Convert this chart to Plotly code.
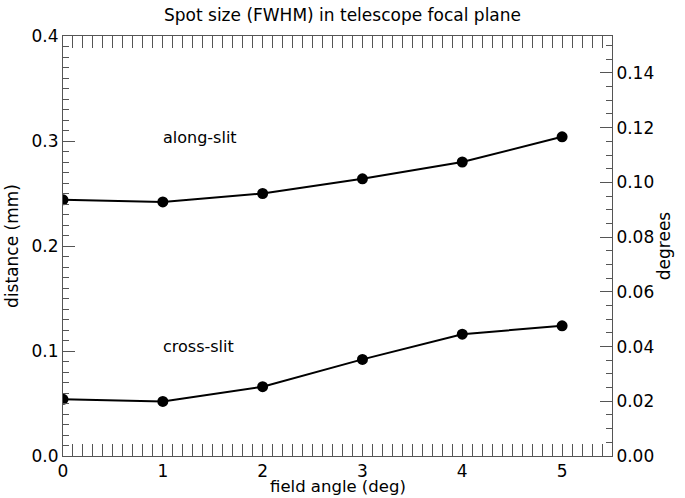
import plotly.graph_objects as go

field_angle = [0, 1, 2, 3, 4, 5]
along_slit = [0.244, 0.242, 0.250, 0.264, 0.280, 0.304]
cross_slit = [0.054, 0.052, 0.066, 0.092, 0.116, 0.124]

DEG_MAX = 0.1535  # right axis top, matches 0.4 mm
FONT = "DejaVu Sans, sans-serif"
AXIS = "#555555"

fig = go.Figure()
for ys in (along_slit, cross_slit):
    fig.add_trace(go.Scatter(
        x=field_angle, y=ys, mode="lines+markers",
        line=dict(color="black", width=2),
        marker=dict(color="black", size=11),
        showlegend=False,
    ))
# empty trace so the right-hand axis is drawn
fig.add_trace(go.Scatter(x=[None], y=[None], yaxis="y2", showlegend=False))

fig.add_annotation(x=0.98, y=0.303, text="along-slit", showarrow=False,
                   xanchor="left", font=dict(size=16))
fig.add_annotation(x=0.98, y=0.104, text="cross-slit", showarrow=False,
                   xanchor="left", font=dict(size=16))
# x title as a note pinned to the bottom edge (axis title sits too low)
fig.add_annotation(xref="paper", yref="paper", x=0.5, y=-0.1,
                   xanchor="center", yanchor="bottom", showarrow=False,
                   text="field angle (deg)", font=dict(size=16.5))

fig.update_layout(
    width=685, height=498,
    margin=dict(l=63, r=73, t=36, b=42),
    paper_bgcolor="white", plot_bgcolor="white",
    font=dict(family=FONT, color="black", size=14),
    title=dict(text="Spot size (FWHM) in telescope focal plane",
               x=0.5, xanchor="center", y=0.97, yanchor="middle",
               font=dict(size=17)),
    xaxis=dict(
        range=[0, 5.5], dtick=1, tick0=0,
        ticks="inside", ticklen=12, tickcolor=AXIS,
        minor=dict(dtick=0.1, ticks="inside", ticklen=6, tickcolor=AXIS),
        showline=True, linecolor=AXIS, linewidth=1, mirror="allticks",
        showgrid=False, zeroline=False, tickfont=dict(size=17),
        automargin=False,
    ),
    yaxis=dict(
        title=dict(text="distance (mm)", standoff=8),
        range=[0, 0.4], dtick=0.1, tickformat=".1f",
        ticks="inside", ticklen=12, tickcolor=AXIS,
        minor=dict(dtick=0.01, ticks="inside", ticklen=6, tickcolor=AXIS),
        showline=True, linecolor=AXIS, linewidth=1,
        showgrid=False, zeroline=False, tickfont=dict(size=17),
        automargin=False,
    ),
    yaxis2=dict(
        title=dict(text="degrees", standoff=4),
        overlaying="y", side="right",
        range=[0, DEG_MAX], dtick=0.02, tickformat=".2f",
        ticks="inside", ticklen=12, tickcolor=AXIS,
        minor=dict(dtick=0.005, ticks="inside", ticklen=6, tickcolor=AXIS),
        showline=True, linecolor=AXIS, linewidth=1,
        showgrid=False, zeroline=False, tickfont=dict(size=17),
        automargin=False,
    ),
)

# drop the browser's default page margin so the figure sits at 0,0
fig.write_html("out.html", config={"displayModeBar": False},
               post_script="document.body.style.margin='0';")
